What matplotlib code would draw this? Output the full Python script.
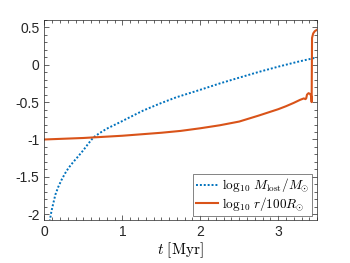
import matplotlib.pyplot as plt
from matplotlib.ticker import MultipleLocator

# mass lost, log10(M_lost / Msun)
t_mass = [0.065, 0.07, 0.09, 0.113, 0.14, 0.177, 0.22, 0.263, 0.31, 0.369, 0.43, 0.497,
          0.56, 0.626, 0.70, 0.797, 0.968, 1.10, 1.267, 1.48, 1.69, 1.99,
          2.25, 2.51, 2.76, 3.02, 3.25, 3.49]
log_mass = [-2.15, -2.08, -1.96, -1.857, -1.74, -1.636, -1.54, -1.457, -1.38, -1.303,
            -1.23, -1.147, -1.06, -0.975, -0.92, -0.857, -0.77, -0.70, -0.613, -0.52,
            -0.436, -0.338, -0.25, -0.169, -0.093, -0.02, 0.04, 0.097]

# radius, log10(r / 100 Rsun)
t_rad = [0.0, 0.5, 1.0, 1.25, 1.5, 1.75, 2.0, 2.25, 2.5, 2.75, 3.0, 3.1, 3.2, 3.28,
         3.33, 3.35, 3.36, 3.37, 3.39, 3.41, 3.425, 3.43, 3.435, 3.45, 3.47, 3.5]
log_rad = [-1.0, -0.98, -0.95, -0.93, -0.91, -0.885, -0.85, -0.81, -0.76, -0.68,
           -0.595, -0.555, -0.51, -0.47, -0.45, -0.46, -0.45, -0.40, -0.38, -0.39,
           -0.42, -0.50, 0.36, 0.42, 0.45, 0.47]

plt.rcParams['mathtext.fontset'] = 'cm'
plt.rcParams['font.family'] = ['Liberation Sans', 'DejaVu Sans']

fig = plt.figure(figsize=(3.5, 2.63), dpi=100)
ax = fig.add_axes([0.127, 0.163, 0.779, 0.761])

ax.plot(t_mass, log_mass, linestyle=(0, (1, 1)), color='#0072BD', lw=1.4,
        label=r'$\log_{10}\,M_{\rm lost}/M_{\odot}$')
ax.plot(t_rad, log_rad, '-', color='#D95319', lw=1.5,
        label=r'$\log_{10}\,r/100R_{\odot}$')

ax.set_xlim(0, 3.5)
ax.set_ylim(-2.08, 0.6)
ax.set_xticks([0, 1, 2, 3])
ax.set_xticklabels(['0', '1', '2', '3'])
ax.set_yticks([-2, -1.5, -1, -0.5, 0, 0.5])
ax.set_yticklabels(['-2', '-1.5', '-1', '-0.5', '0', '0.5'])
ax.xaxis.set_minor_locator(MultipleLocator(0.1))
ax.yaxis.set_minor_locator(MultipleLocator(0.1))
ax.tick_params(which='both', direction='in', top=True, right=True,
               colors='#262626', labelsize=10, width=0.5)
ax.tick_params(which='major', length=3.5)
ax.tick_params(which='minor', length=2)
for s in ax.spines.values():
    s.set_linewidth(0.5)
    s.set_color('#262626')

ax.set_xlabel(r'$t\ \mathrm{[Myr]}$', fontsize=11, labelpad=1)

leg = ax.legend(loc='lower right', fontsize=9.5, frameon=True, fancybox=False,
                handlelength=1.7, handletextpad=0.3, borderpad=0.2,
                labelspacing=0.05, borderaxespad=0.35)
leg.get_frame().set_edgecolor('#262626')
leg.get_frame().set_linewidth(0.5)

fig.savefig('out.png', dpi=100)
